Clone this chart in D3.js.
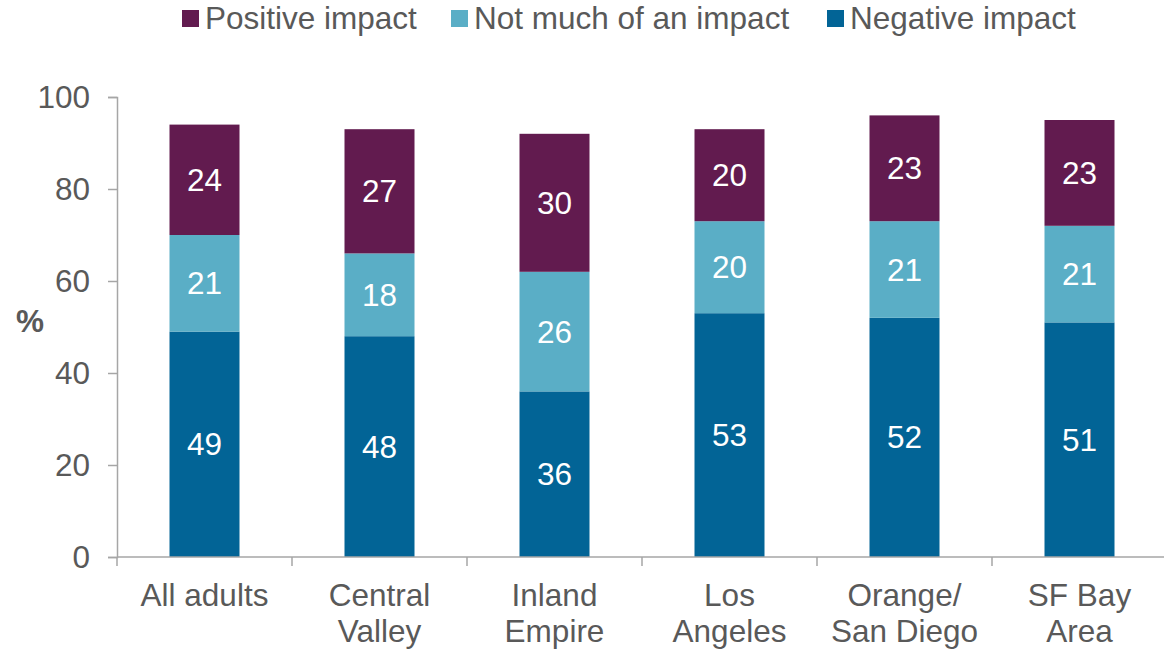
<!DOCTYPE html>
<html>
<head>
<meta charset="utf-8">
<script src="https://cdn.jsdelivr.net/npm/d3@7"></script>
<style>
  body { margin: 0; background: #fff; }
  svg { display: block; font-family: "Liberation Sans", Arial, sans-serif; }
</style>
</head>
<body>
<svg id="chart" width="1164" height="649"></svg>
<script>
const categories = [["All adults"], ["Central", "Valley"], ["Inland", "Empire"], ["Los", "Angeles"], ["Orange/", "San Diego"], ["SF Bay", "Area"]];
const negative = [49, 48, 36, 53, 52, 51];
const notMuch = [21, 18, 26, 20, 21, 21];
const positive = [24, 27, 30, 20, 23, 23];
const seriesNames = ["Negative impact", "Not much of an impact", "Positive impact"];
const seriesColors = ["#026496", "#5AAEC6", "#621B4F"];
const yTicks = [0, 20, 40, 60, 80, 100];

const fontSize = "31.5px";
const svg = d3.select("#chart");
const margin = { top: 97, left: 117 };
const width = 1050, height = 460;
const g = svg.append("g").attr("transform", `translate(${margin.left}, ${margin.top})`);

const keys = categories.map((c, i) => i);
const x = d3.scaleBand().domain(keys).range([0, width]).paddingInner(0.6).paddingOuter(0.3);
const y = d3.scaleLinear().domain([0, 100]).range([height, 0]);

const rows = keys.map(i => ({ i, neg: negative[i], mid: notMuch[i], pos: positive[i] }));
const stack = d3.stack().keys(["neg", "mid", "pos"])(rows);

stack.forEach((layer, li) => {
    const lg = g.append("g");
    lg.selectAll("rect")
        .data(layer)
        .join("rect")
        .attr("x", d => x(d.data.i))
        .attr("y", d => y(d[1]))
        .attr("width", x.bandwidth())
        .attr("height", d => y(d[0]) - y(d[1]))
        .attr("fill", seriesColors[li]);
    lg.selectAll("text")
        .data(layer)
        .join("text")
        .attr("x", d => x(d.data.i) + x.bandwidth() / 2)
        .attr("y", d => (y(d[0]) + y(d[1])) / 2)
        .attr("dy", "0.35em")
        .attr("text-anchor", "middle")
        .attr("fill", "#fff")
        .style("font-size", fontSize)
        .text(d => d[1] - d[0]);
});

// y axis
const yAxis = g.append("g")
    .call(d3.axisLeft(y).tickValues(yTicks).tickSize(9).tickPadding(18));
yAxis.select(".domain").attr("stroke", "#a6a6a6").attr("stroke-width", 1.5);
yAxis.selectAll(".tick line").attr("stroke", "#a6a6a6").attr("stroke-width", 1.5);
yAxis.selectAll(".tick text").attr("fill", "#595959").style("font-size", fontSize).style("font-family", "Liberation Sans, Arial, sans-serif");

// x axis: line with ticks at category boundaries
const xAxis = g.append("g").attr("transform", `translate(0, ${height})`);
xAxis.append("line")
    .attr("x1", 0).attr("x2", width)
    .attr("stroke", "#a6a6a6").attr("stroke-width", 1.5);
const step = x.step();
xAxis.selectAll(".bound")
    .data(d3.range(categories.length))
    .join("line")
    .attr("x1", d => x(d) - x.paddingOuter() * step)
    .attr("x2", d => x(d) - x.paddingOuter() * step)
    .attr("y1", 0).attr("y2", 9)
    .attr("stroke", "#a6a6a6").attr("stroke-width", 1.5);
xAxis.selectAll(".lab")
    .data(keys)
    .join("text")
    .attr("x", d => x(d) + x.bandwidth() / 2)
    .attr("y", 49)
    .attr("text-anchor", "middle")
    .attr("fill", "#595959")
    .style("font-size", fontSize)
    .selectAll("tspan")
    .data(d => categories[d].map(t => ({ t, c: x(d) + x.bandwidth() / 2 })))
    .join("tspan")
    .attr("x", d => d.c)
    .attr("dy", (d, j) => j === 0 ? 0 : 36)
    .text(d => d.t);

// y label
svg.append("text")
    .attr("x", 30).attr("y", 332)
    .attr("text-anchor", "middle")
    .attr("fill", "#595959")
    .style("font-size", fontSize)
    .style("font-weight", "bold")
    .text("%");

// legend
const legendX = [182, 451, 827];
const legendOrder = [2, 1, 0];
legendOrder.forEach((s, k) => {
    svg.append("rect")
        .attr("x", legendX[k]).attr("y", 10)
        .attr("width", 17).attr("height", 17)
        .attr("fill", seriesColors[s]);
    svg.append("text")
        .attr("x", legendX[k] + 23).attr("y", 29)
        .attr("fill", "#595959")
        .style("font-size", fontSize)
        .text(seriesNames[s]);
});
</script>
</body>
</html>
